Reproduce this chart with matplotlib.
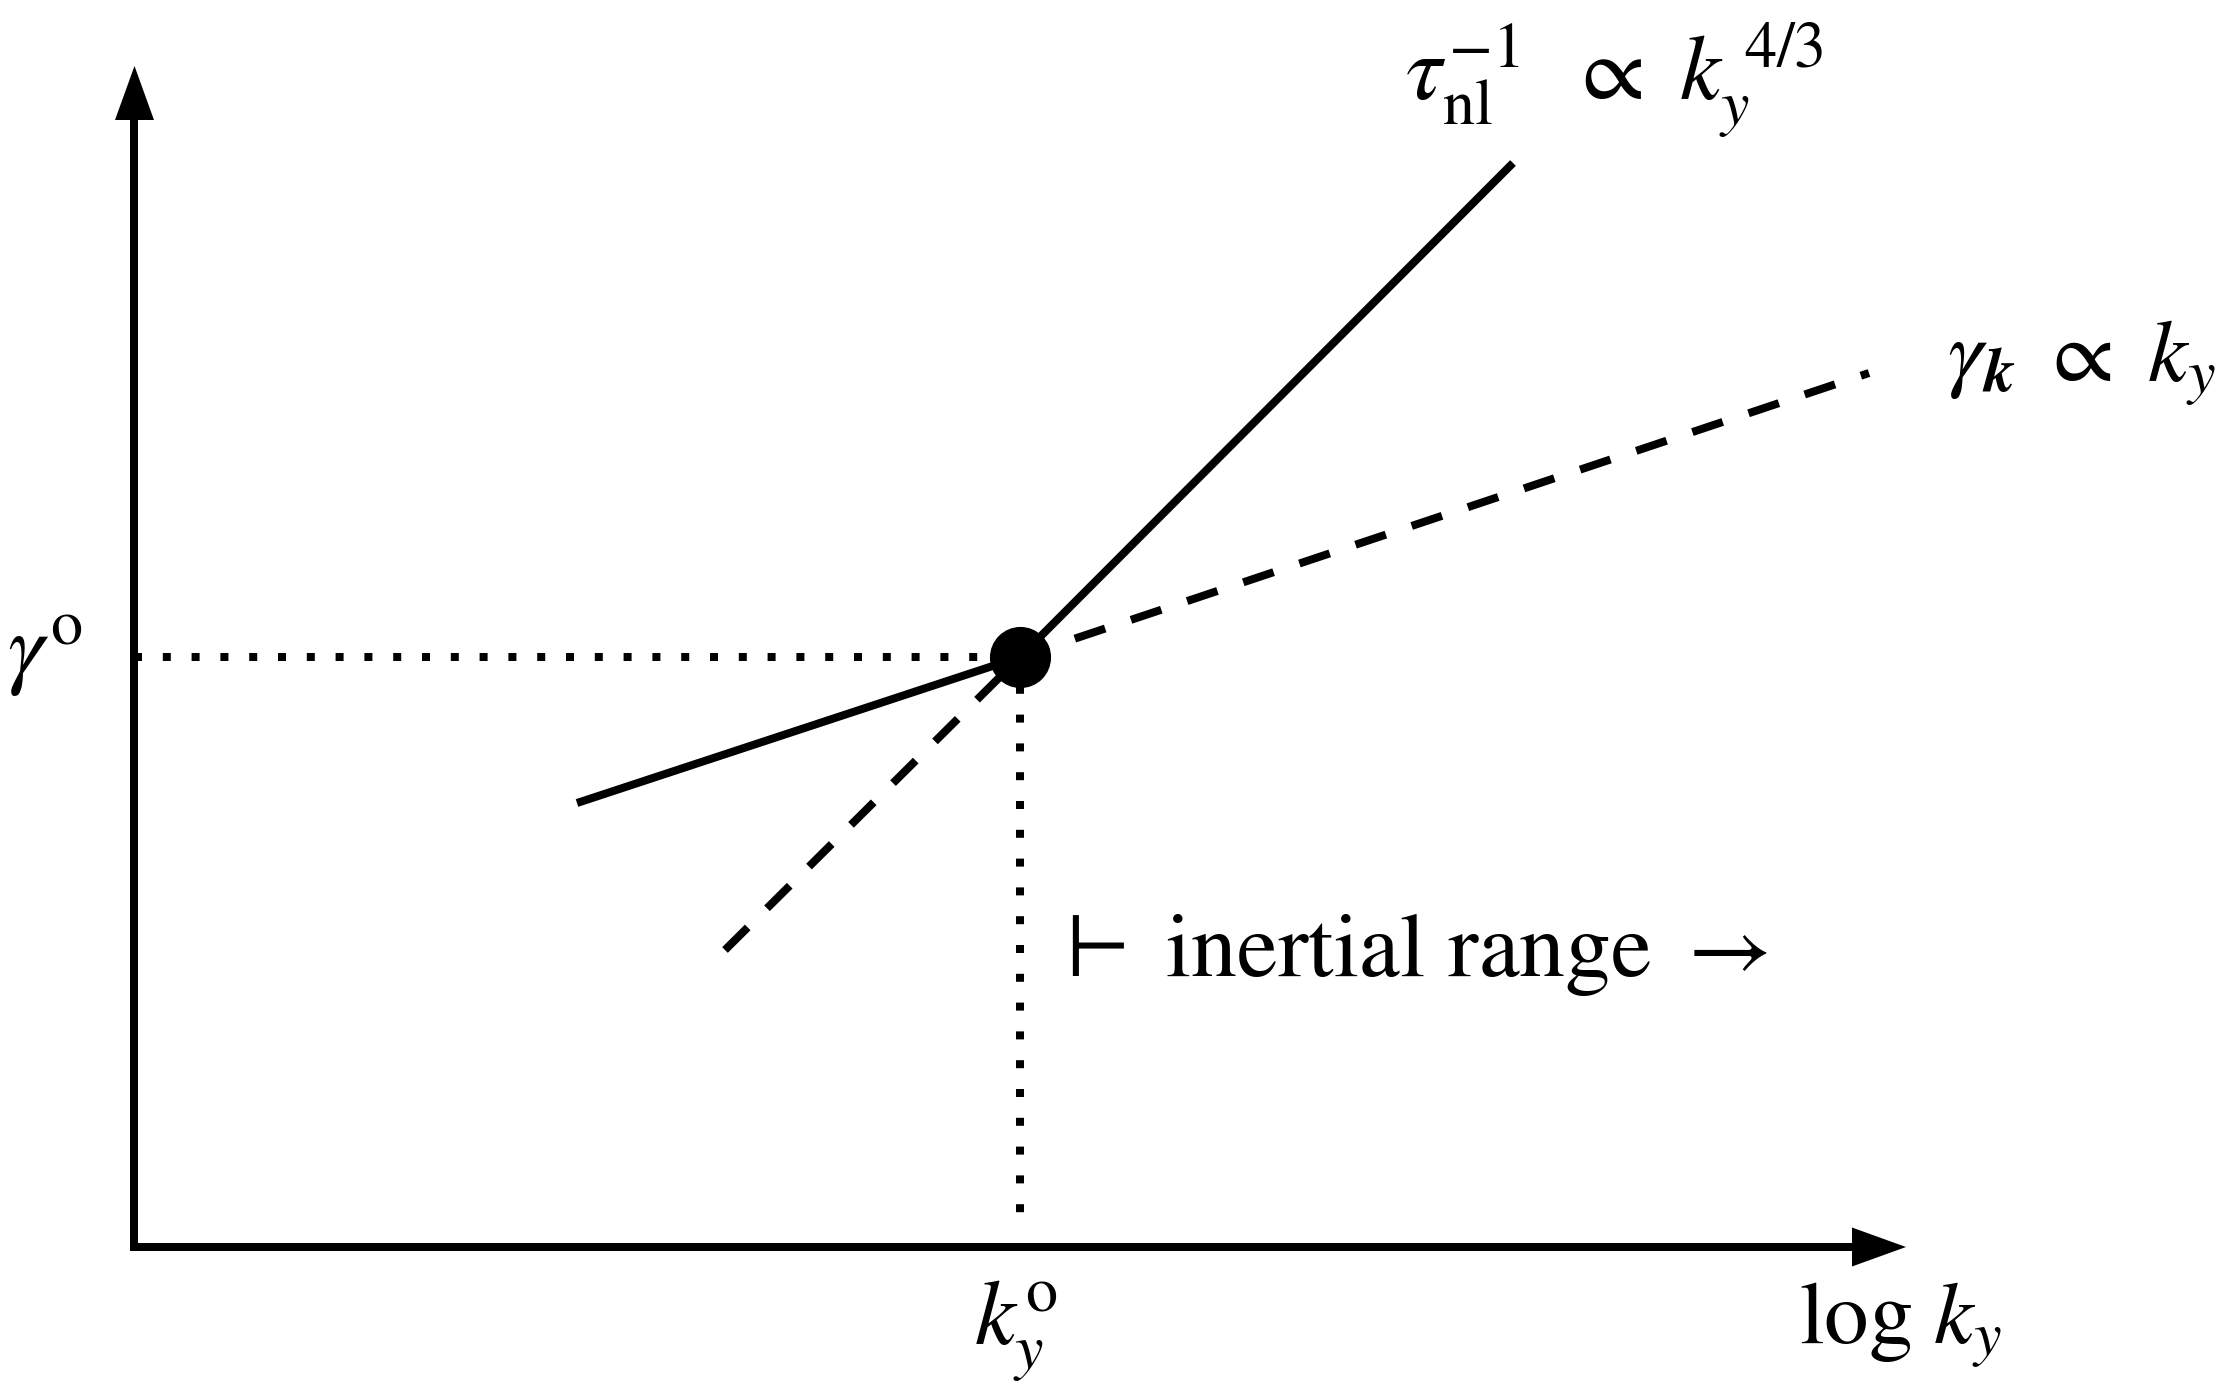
import numpy as np
import matplotlib.pyplot as plt

plt.rcParams['mathtext.fontset'] = 'stix'
plt.rcParams['font.family'] = ['STIXGeneral', 'DejaVu Serif']

# schematic in log-log units, knee point at (0, 0)
tau_x = [-4.43, 0.0, 4.93]     # tau_nl^-1 (solid)
tau_y = [-1.46, 0.0, 4.94]
gam_x = [-2.95, 0.0, 8.49]     # gamma_k (dashed)
gam_y = [-2.93, 0.0, 2.84]
knee_x, knee_y = 0.0, 0.0

x0, y0 = -8.855, -5.90         # axis corner
x_tip, y_tip = 8.86, 5.91      # arrow tips
y_dot_end = -5.69

fig = plt.figure(figsize=(22.3, 13.99), dpi=100)
ax = fig.add_axes([0, 0, 1, 1])
ax.set_xlim(-10.20, 12.10)
ax.set_ylim(-7.42, 6.57)
ax.axis('off')

lw = 5.76

# axes with arrow heads
hl, hw = 0.54, 0.195
ax.plot([x0, x_tip - hl], [y0, y0], color='black', lw=lw, solid_capstyle='projecting')
ax.plot([x0, x0], [y0, y_tip - hl], color='black', lw=lw, solid_capstyle='projecting')
ax.fill([x_tip - hl, x_tip, x_tip - hl], [y0 - hw, y0, y0 + hw], color='black', lw=0)
ax.fill([x0 - hw, x0, x0 + hw], [y_tip - hl, y_tip, y_tip - hl], color='black', lw=0)

# dotted guides
ax.plot([x0, knee_x], [knee_y, knee_y], color='black', lw=lw,
        linestyle=(0, (1, 2.6)), dash_capstyle='butt')
ax.plot([knee_x, knee_x], [knee_y, y_dot_end], color='black', lw=lw,
        linestyle=(0, (1, 2.6)), dash_capstyle='butt')

# curves
ax.plot(tau_x, tau_y, color='black', lw=lw, solid_capstyle='butt')
ax.plot(gam_x, gam_y, color='black', lw=lw, linestyle=(0, (4.0, 3.4)),
        dash_capstyle='butt')
ax.plot([knee_x], [knee_y], 'o', color='black', markersize=43, zorder=5)

fs = 66
ax.text(3.85, 5.57, r'$\tau_{\mathrm{nl}}^{-1}\;\ \propto\ k_y^{\;4/3}$', fontsize=fs,
        ha='left', va='baseline')
ax.text(9.27, 2.75, r'$\gamma_{\mathbfit{k}}\ \propto\ k_y$', fontsize=64,
        ha='left', va='baseline')
ax.text(-10.13, -0.21, r'$\gamma^{\mathrm{o}}$', fontsize=fs, ha='left', va='baseline')
ax.text(-0.46, -6.87, r'$k_y^{\mathrm{o}}$', fontsize=fs, ha='left', va='baseline')
ax.text(7.79, -6.87, r'$\log\,k_y$', fontsize=64, ha='left', va='baseline')
ax.text(0.33, -3.19, r'$\vdash$ inertial range $\rightarrow$', fontsize=fs,
        ha='left', va='baseline')

fig.savefig('out.png', dpi=100)
